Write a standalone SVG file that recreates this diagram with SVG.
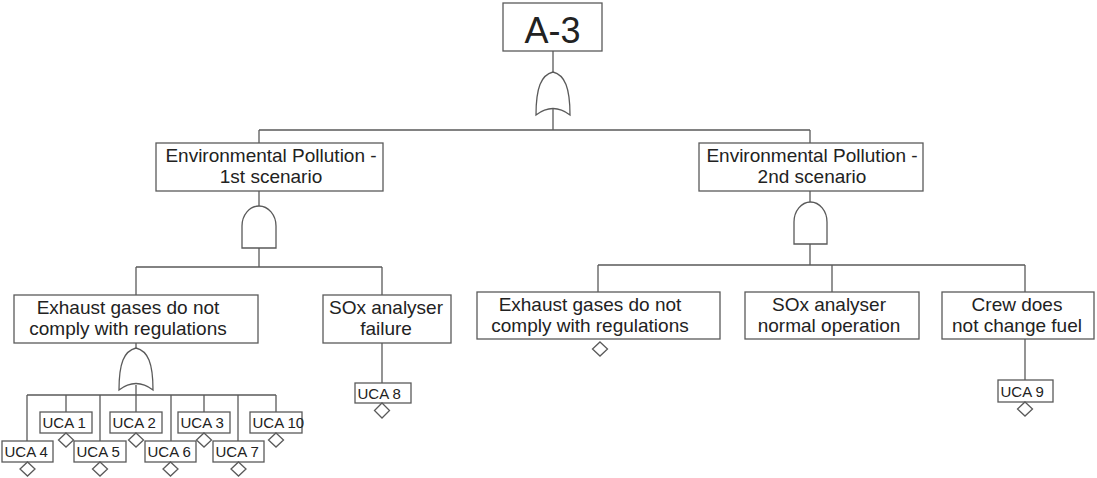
<svg xmlns="http://www.w3.org/2000/svg" width="1097" height="478" viewBox="0 0 1097 478">
  <style>
    .box { fill: #ffffff; stroke: #5a5a5a; stroke-width: 1.3; }
    .gate { fill: #ffffff; stroke: #5a5a5a; stroke-width: 1.3; }
    .wire { fill: none; stroke: #5a5a5a; stroke-width: 1.3; }
    .lbl { font-family: "Liberation Sans", Arial, sans-serif; font-size: 19px; fill: #222222; text-anchor: middle; }
    .top { font-size: 36px; }
    .uca { font-family: "Liberation Sans", Arial, sans-serif; font-size: 15px; fill: #222222; }
    .dia { fill: #ffffff; stroke: #5a5a5a; stroke-width: 1.3; }
  </style>
  <rect width="1097" height="478" fill="#ffffff"/>

  <!-- connectors -->
  <g id="connectors" class="wire">
    <!-- top event to OR gate, then bus -->
    <path d="M553 51 V72 M553 107 V130 M259 130 H810 M259 130 V143 M810 130 V143"/>
    <!-- scenario 1 -->
    <path d="M259 191 V206 M259 248 V267 M136 267 H382 M136 267 V295 M382 267 V295"/>
    <path d="M136 343 V348 M136 385 V395 M27 395 H276"/>
    <path d="M27 395 V441 M66 395 V412 M100 395 V441 M136 395 V412 M171 395 V441 M204 395 V412 M238 395 V441 M276 395 V412"/>
    <path d="M382 343 V383"/>
    <!-- scenario 2 -->
    <path d="M810 191 V202 M810 244 V265 M598 265 H1025 M598 265 V292 M832 265 V292 M1025 265 V292"/>
    <path d="M1025 339 V380"/>
  </g>

  <!-- gates -->
  <g id="gate-or-top">
    <path class="gate" d="M536 115 C536 88 541 75 553 72 C565 75 570 88 570 115 Q553 102 536 115 Z"/>
  </g>
  <g id="gate-and-1">
    <path class="gate" d="M242 248 V226 A17 20 0 0 1 276 226 V248 Z"/>
  </g>
  <g id="gate-or-1">
    <path class="gate" d="M119 390 C119 363 124 351 136 348 C148 351 153 363 153 390 Q136 377 119 390 Z"/>
  </g>
  <g id="gate-and-2">
    <path class="gate" d="M794 244 V222 A16.5 20 0 0 1 827 222 V244 Z"/>
  </g>

  <!-- top event -->
  <g id="node-a3">
    <rect class="box" x="503" y="3" width="99" height="48"/>
    <text class="lbl top" x="552.5" y="43">A-3</text>
  </g>

  <!-- scenario 1 -->
  <g id="node-env1">
    <rect class="box" x="156" y="143" width="227" height="48"/>
    <text class="lbl" x="271" y="162">Environmental Pollution -</text>
    <text class="lbl" x="271" y="183">1st scenario</text>
  </g>
  <g id="node-exhaust1">
    <rect class="box" x="14" y="295" width="244" height="48"/>
    <text class="lbl" x="128" y="314">Exhaust gases do not</text>
    <text class="lbl" x="128" y="335">comply with regulations</text>
  </g>
  <g id="node-sox-failure">
    <rect class="box" x="323" y="295" width="128" height="48"/>
    <text class="lbl" x="386" y="314">SOx analyser</text>
    <text class="lbl" x="386" y="335">failure</text>
  </g>

  <!-- UCA basic events, upper row -->
  <g id="uca1">
    <rect class="box" x="40" y="412" width="52" height="21"/>
    <text class="uca" x="42.5" y="428">UCA 1</text>
    <polygon class="dia" points="66,433 73.5,440 66,447 58.5,440"/>
  </g>
  <g id="uca2">
    <rect class="box" x="110" y="412" width="52" height="21"/>
    <text class="uca" x="112.5" y="428">UCA 2</text>
    <polygon class="dia" points="136,433 143.5,440 136,447 128.5,440"/>
  </g>
  <g id="uca3">
    <rect class="box" x="178" y="412" width="52" height="21"/>
    <text class="uca" x="180.5" y="428">UCA 3</text>
    <polygon class="dia" points="204,433 211.5,440 204,447 196.5,440"/>
  </g>
  <g id="uca10">
    <rect class="box" x="250" y="412" width="52" height="21"/>
    <text class="uca" x="252.5" y="428">UCA 10</text>
    <polygon class="dia" points="276,433 283.5,440 276,447 268.5,440"/>
  </g>

  <!-- UCA basic events, lower row -->
  <g id="uca4">
    <rect class="box" x="2" y="441" width="51" height="21"/>
    <text class="uca" x="4.5" y="457">UCA 4</text>
    <polygon class="dia" points="27.5,462 35,469 27.5,476 20,469"/>
  </g>
  <g id="uca5">
    <rect class="box" x="74" y="441" width="52" height="21"/>
    <text class="uca" x="76.5" y="457">UCA 5</text>
    <polygon class="dia" points="100,462 107.5,469 100,476 92.5,469"/>
  </g>
  <g id="uca6">
    <rect class="box" x="145" y="441" width="51" height="21"/>
    <text class="uca" x="147.5" y="457">UCA 6</text>
    <polygon class="dia" points="170.5,462 178,469 170.5,476 163,469"/>
  </g>
  <g id="uca7">
    <rect class="box" x="213" y="441" width="51" height="21"/>
    <text class="uca" x="215.5" y="457">UCA 7</text>
    <polygon class="dia" points="238.5,462 246,469 238.5,476 231,469"/>
  </g>

  <g id="uca8">
    <rect class="box" x="355" y="383" width="56" height="20"/>
    <text class="uca" x="357.5" y="398.5">UCA 8</text>
    <polygon class="dia" points="382,403 389.5,410.5 382,418 374.5,410.5"/>
  </g>

  <!-- scenario 2 -->
  <g id="node-env2">
    <rect class="box" x="699" y="143" width="224" height="48"/>
    <text class="lbl" x="812" y="162">Environmental Pollution -</text>
    <text class="lbl" x="812" y="183">2nd scenario</text>
  </g>
  <g id="node-exhaust2">
    <rect class="box" x="477" y="292" width="243" height="47"/>
    <text class="lbl" x="590" y="311">Exhaust gases do not</text>
    <text class="lbl" x="590" y="332">comply with regulations</text>
    <polygon class="dia" points="600,342 607.5,349 600,356 592.5,349"/>
  </g>
  <g id="node-sox-normal">
    <rect class="box" x="745" y="292" width="174" height="47"/>
    <text class="lbl" x="829" y="311">SOx analyser</text>
    <text class="lbl" x="829" y="332">normal operation</text>
  </g>
  <g id="node-crew">
    <rect class="box" x="942" y="292" width="152" height="47"/>
    <text class="lbl" x="1017" y="311">Crew does</text>
    <text class="lbl" x="1017" y="332">not change fuel</text>
  </g>
  <g id="uca9">
    <rect class="box" x="998" y="380" width="55" height="22"/>
    <text class="uca" x="1000.5" y="396.5">UCA 9</text>
    <polygon class="dia" points="1025,402 1032.5,409 1025,416 1017.5,409"/>
  </g>
</svg>
